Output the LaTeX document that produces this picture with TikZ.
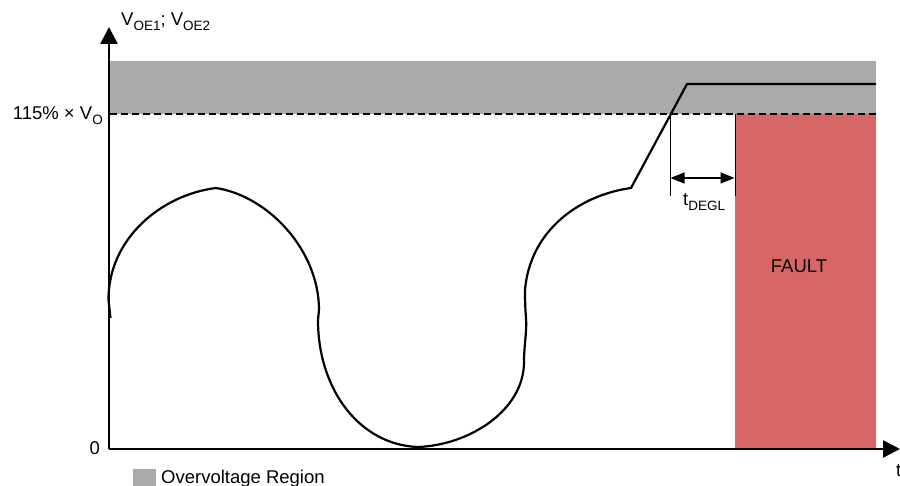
\documentclass[tikz,border=0pt]{standalone}
\usepackage{fontspec}
\setmainfont{Liberation Sans}
\usetikzlibrary{arrows.meta}
\definecolor{ovgray}{HTML}{AAAAAA}
\definecolor{faultred}{HTML}{D76767}
\newcommand{\mysub}[1]{\raisebox{-0.22em}{\fontsize{13.5}{15}\selectfont #1}}
\begin{document}
\begin{tikzpicture}[x=1pt,y=-1pt,
  lbl/.style={inner sep=0pt,font=\fontsize{18.5}{21}\selectfont},
  axisline/.style={line width=2.6pt,-{Triangle[length=17pt,width=17pt]}},
  sigline/.style={line width=2.2pt,line join=round},
  thinline/.style={line width=1pt},
  dimarrow/.style={line width=1.3pt,{Triangle[length=14pt,width=11pt]}-{Triangle[length=14pt,width=11pt]}},
  thresh/.style={line width=1.2pt,dash pattern=on 7pt off 4pt}]
\useasboundingbox (0,0) rectangle (900,486);
% regions
\fill[ovgray] (110,61) rectangle (876,114);
\fill[faultred] (735,114) rectangle (876,448);
\draw[thresh] (110,114) -- (876,114);
% axes
\coordinate (orig) at (109,449);
\coordinate (ytip) at (109,27);
\coordinate (xtip) at (900,449);
\draw[axisline] (orig) -- (ytip);
\draw[axisline] (orig) -- (xtip);
% signal
\draw[sigline] (110.5,318) -- (108.5,300)
  .. controls (108,240) and (160,195) .. (216,188)
  .. controls (268,196) and (319,250) .. (319,310)
  -- (318,320)
  .. controls (318,390) and (360,445) .. (418,447)
  .. controls (470,445) and (524,410) .. (524,362)
  .. controls (524,345) and (527,332) .. (526,318)
  .. controls (525,306) and (525,296) .. (525,290)
  .. controls (530,230) and (580,195) .. (631,188)
  -- (687,84) -- (876,84);
% deglitch
\coordinate (d1t) at (670,114);
\coordinate (d1b) at (670,196);
\draw[thinline] (d1t) -- (d1b);
\coordinate (d2t) at (735,114);
\coordinate (d2b) at (735,196);
\draw[thinline] (d2t) -- (d2b);
\coordinate (a1) at (670.5,178);
\coordinate (a2) at (734.5,178);
\draw[dimarrow] (a1) -- (a2);
% labels
\node[lbl,anchor=base west] (ylab) at (121,26) {V\mysub{OE1}; V\mysub{OE2}};
\node[lbl,anchor=base east] (thr) at (103,120) {115\% × V\mysub{O}};
\node[lbl,anchor=base east] (zero) at (100,454) {0};
\node[lbl,anchor=base west] (tlab) at (896,476) {t};
\node[lbl,anchor=base west] (deg) at (683,206) {t\mysub{DEGL}};
\node[lbl,anchor=base] (fault) at (799,273) {FAULT};
\fill[ovgray] (133,469) rectangle (156,486);
\node[lbl,anchor=base west] (leg) at (161,483) {Overvoltage Region};
\end{tikzpicture}
\end{document}
